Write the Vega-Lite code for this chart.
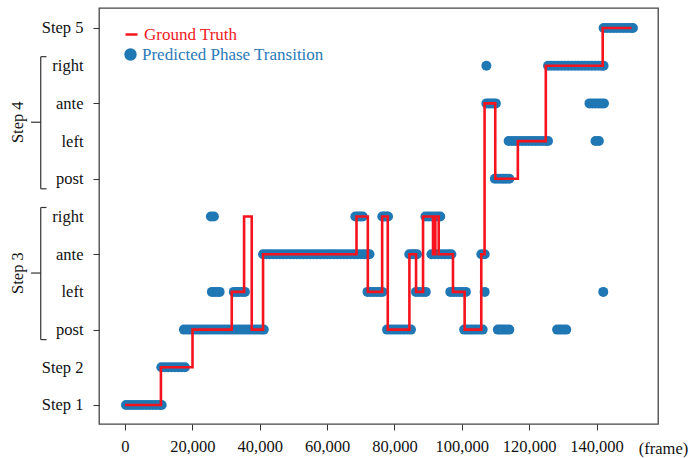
{
  "$schema": "https://vega.github.io/schema/vega-lite/v6.json",
  "width": 559,
  "height": 416,
  "autosize": {"type": "none"},
  "padding": {"left": 99, "top": 8, "right": 31, "bottom": 34},
  "background": "white",
  "config": {
    "view": {"stroke": "#444", "strokeWidth": 1.3},
    "font": "Liberation Serif",
    "text": {"font": "Liberation Serif"}
  },
  "datasets": {
    "pred": [
      {"f":300,"s":0},{"f":1300,"s":0},{"f":2300,"s":0},{"f":3300,"s":0},{"f":4300,"s":0},{"f":5300,"s":0},{"f":6300,"s":0},{"f":7300,"s":0},{"f":8300,"s":0},{"f":9300,"s":0},{"f":10300,"s":0},{"f":10900,"s":0},
      {"f":10800,"s":1},{"f":11800,"s":1},{"f":12800,"s":1},{"f":13800,"s":1},{"f":14800,"s":1},{"f":15800,"s":1},{"f":16800,"s":1},{"f":17800,"s":1},
      {"f":17500,"s":2},{"f":18500,"s":2},{"f":19500,"s":2},{"f":20500,"s":2},{"f":21500,"s":2},{"f":22500,"s":2},{"f":23500,"s":2},{"f":24500,"s":2},{"f":25500,"s":2},{"f":26500,"s":2},{"f":27500,"s":2},{"f":28500,"s":2},{"f":29500,"s":2},{"f":30500,"s":2},{"f":31500,"s":2},{"f":32500,"s":2},{"f":33500,"s":2},{"f":34500,"s":2},{"f":35500,"s":2},{"f":36500,"s":2},{"f":37500,"s":2},{"f":38500,"s":2},{"f":39500,"s":2},{"f":40500,"s":2},{"f":41200,"s":2},
      {"f":25800,"s":3},{"f":26600,"s":3},{"f":27400,"s":3},{"f":28100,"s":3},
      {"f":32300,"s":3},{"f":33100,"s":3},{"f":33900,"s":3},{"f":34800,"s":3},{"f":35600,"s":3},
      {"f":25500,"s":5},{"f":26400,"s":5},
      {"f":41000,"s":4},{"f":42000,"s":4},{"f":43000,"s":4},{"f":44000,"s":4},{"f":45000,"s":4},{"f":46000,"s":4},{"f":47000,"s":4},{"f":48000,"s":4},{"f":49000,"s":4},{"f":50000,"s":4},{"f":51000,"s":4},{"f":52000,"s":4},{"f":53000,"s":4},{"f":54000,"s":4},{"f":55000,"s":4},{"f":56000,"s":4},{"f":57000,"s":4},{"f":58000,"s":4},{"f":59000,"s":4},{"f":60000,"s":4},{"f":61000,"s":4},{"f":62000,"s":4},{"f":63000,"s":4},{"f":64000,"s":4},{"f":65000,"s":4},{"f":66000,"s":4},{"f":67000,"s":4},{"f":68000,"s":4},{"f":69000,"s":4},{"f":70000,"s":4},{"f":71000,"s":4},{"f":72000,"s":4},{"f":72600,"s":4},
      {"f":68400,"s":5},{"f":69100,"s":5},{"f":69900,"s":5},{"f":70600,"s":5},
      {"f":76400,"s":5},{"f":77000,"s":5},{"f":77600,"s":5},{"f":78100,"s":5},
      {"f":89200,"s":5},{"f":90100,"s":5},{"f":91000,"s":5},{"f":91900,"s":5},{"f":92800,"s":5},{"f":93600,"s":5},
      {"f":72000,"s":3},{"f":72900,"s":3},{"f":73800,"s":3},{"f":74700,"s":3},{"f":75600,"s":3},{"f":76400,"s":3},
      {"f":86400,"s":3},{"f":87400,"s":3},{"f":88400,"s":3},{"f":89300,"s":3},
      {"f":96600,"s":3},{"f":97500,"s":3},{"f":98400,"s":3},{"f":99300,"s":3},{"f":100200,"s":3},{"f":101200,"s":3},
      {"f":106800,"s":3},
      {"f":142000,"s":3},
      {"f":77800,"s":2},{"f":78800,"s":2},{"f":79800,"s":2},{"f":80800,"s":2},{"f":81800,"s":2},{"f":82800,"s":2},{"f":83900,"s":2},{"f":84900,"s":2},
      {"f":100700,"s":2},{"f":101600,"s":2},{"f":102500,"s":2},{"f":103400,"s":2},{"f":104300,"s":2},{"f":105300,"s":2},{"f":106200,"s":2},
      {"f":110700,"s":2},{"f":111500,"s":2},{"f":112300,"s":2},{"f":113200,"s":2},{"f":114100,"s":2},
      {"f":128300,"s":2},{"f":129200,"s":2},{"f":130100,"s":2},{"f":131000,"s":2},
      {"f":84400,"s":4},{"f":85200,"s":4},{"f":86000,"s":4},{"f":86700,"s":4},
      {"f":91000,"s":4},{"f":92000,"s":4},{"f":93000,"s":4},{"f":94000,"s":4},{"f":95000,"s":4},{"f":96000,"s":4},{"f":96900,"s":4},
      {"f":105800,"s":4},{"f":106800,"s":4},
      {"f":107300,"s":9},
      {"f":125600,"s":9},{"f":126600,"s":9},{"f":127600,"s":9},{"f":128600,"s":9},{"f":129600,"s":9},{"f":130600,"s":9},{"f":131600,"s":9},{"f":132600,"s":9},{"f":133600,"s":9},{"f":134600,"s":9},{"f":135600,"s":9},{"f":136600,"s":9},{"f":137600,"s":9},{"f":138600,"s":9},{"f":139600,"s":9},{"f":140600,"s":9},{"f":141600,"s":9},{"f":142100,"s":9},
      {"f":107300,"s":8},{"f":108000,"s":8},{"f":108700,"s":8},{"f":109400,"s":8},{"f":110100,"s":8},
      {"f":137900,"s":8},{"f":138800,"s":8},{"f":139700,"s":8},{"f":140600,"s":8},{"f":141400,"s":8},{"f":142200,"s":8},
      {"f":113900,"s":7},{"f":114900,"s":7},{"f":115900,"s":7},{"f":116900,"s":7},{"f":117900,"s":7},{"f":118900,"s":7},{"f":119900,"s":7},{"f":120900,"s":7},{"f":121900,"s":7},{"f":122900,"s":7},{"f":123900,"s":7},{"f":124900,"s":7},{"f":125600,"s":7},
      {"f":139700,"s":7},{"f":140700,"s":7},
      {"f":109800,"s":6},{"f":110700,"s":6},{"f":111600,"s":6},{"f":112400,"s":6},{"f":113200,"s":6},{"f":114100,"s":6},
      {"f":142100,"s":10},{"f":143100,"s":10},{"f":144100,"s":10},{"f":145100,"s":10},{"f":146100,"s":10},{"f":147100,"s":10},{"f":148100,"s":10},{"f":149100,"s":10},{"f":150100,"s":10},{"f":150800,"s":10}
    ],
    "gt": [
      {"f":0,"s":0},{"f":10670,"s":1},{"f":20050,"s":2},{"f":31700,"s":3},{"f":35360,"s":5},{"f":37630,"s":2},{"f":40990,"s":4},{"f":68740,"s":5},{"f":72100,"s":3},{"f":76350,"s":5},{"f":78020,"s":2},{"f":84440,"s":4},{"f":86420,"s":3},{"f":88490,"s":5},{"f":91460,"s":4},{"f":92150,"s":5},{"f":93140,"s":4},{"f":97380,"s":3},{"f":100840,"s":2},{"f":105780,"s":4},{"f":106760,"s":8},{"f":109930,"s":6},{"f":116640,"s":7},{"f":124940,"s":9},{"f":141830,"s":10},{"f":150420,"s":10}
    ],
    "groups": [
      {"grp":"Step 3","lo":2,"hi":5,"mid":3.5},
      {"grp":"Step 4","lo":6,"hi":9,"mid":7.5}
    ]
  },
  "layer": [
    {
      "data": {"name": "pred"},
      "mark": {"type": "circle", "size": 100, "opacity": 1},
      "encoding": {
        "x": {
          "field": "f", "type": "quantitative",
          "scale": {"domain": [-7715, 158250], "nice": false, "zero": false},
          "axis": {
            "values": [0, 20000, 40000, 60000, 80000, 100000, 120000, 140000],
            "labelExpr": "format(datum.value, ',')",
            "grid": false, "domain": false,
            "tickSize": 6, "tickColor": "#333", "tickWidth": 1,
            "labelPadding": 8, "labelFontSize": 16.5, "labelFont": "Liberation Serif", "labelColor": "#111",
            "labelFlush": false, "labelOverlap": false,
            "title": "(frame)", "titleX": 564, "titleY": 24, "titleBaseline": "middle", "titleAlign": "center",
            "titleFontWeight": "normal", "titleFontSize": 16.5, "titleFont": "Liberation Serif", "titleColor": "#111"
          }
        },
        "y": {
          "field": "s", "type": "quantitative",
          "scale": {"domain": [-0.504, 10.53], "nice": false, "zero": false},
          "axis": {
            "values": [0, 1, 2, 3, 4, 5, 6, 7, 8, 9, 10],
            "labelExpr": "['Step 1','Step 2','post','left','ante','right','post','left','ante','right','Step 5'][datum.value]",
            "grid": false, "domain": false,
            "tickSize": 6, "tickColor": "#333", "tickWidth": 1,
            "tickOpacity": {"condition": {"test": "datum.value % 2 === 0", "value": 1}, "value": 0},
            "labelPadding": 10, "labelFontSize": 16.5, "labelFont": "Liberation Serif", "labelColor": "#111",
            "labelOverlap": false, "labelFlush": false,
            "title": null
          }
        },
        "fill": {
          "datum": "Predicted Phase Transition",
          "scale": {"domain": ["Predicted Phase Transition"], "range": ["#1f77b4"]},
          "legend": {
            "orient": "none", "legendX": 23, "legendY": 38, "title": null, "padding": 0,
            "labelFont": "Liberation Serif", "labelFontSize": 17, "labelOffset": 3,
            "labelColor": "#2a7ab8", "labelLimit": 400,
            "symbolType": "circle", "symbolSize": 154, "symbolOpacity": 1, "symbolStrokeWidth": 0
          }
        }
      }
    },
    {
      "data": {"name": "gt"},
      "mark": {"type": "line", "interpolate": "step-after", "strokeWidth": 2.6},
      "encoding": {
        "x": {"field": "f", "type": "quantitative"},
        "y": {"field": "s", "type": "quantitative"},
        "stroke": {
          "datum": "Ground Truth",
          "scale": {"domain": ["Ground Truth"], "range": ["#f5141e"]},
          "legend": {
            "orient": "none", "legendX": 24, "legendY": 18, "title": null, "padding": 0,
            "labelFont": "Liberation Serif", "labelFontSize": 17, "labelOffset": 4,
            "labelColor": "#f01a22", "labelLimit": 400,
            "symbolType": "stroke", "symbolSize": 144, "symbolStrokeWidth": 2.5
          }
        }
      }
    },
    {
      "data": {"name": "groups"},
      "mark": {"type": "rule", "color": "#333", "strokeWidth": 1.2, "yOffset": 10, "y2Offset": -9},
      "encoding": {
        "x": {"datum": -25015, "type": "quantitative"},
        "y": {"field": "lo", "type": "quantitative"},
        "y2": {"field": "hi"}
      }
    },
    {
      "data": {"name": "groups"},
      "mark": {"type": "rule", "color": "#333", "strokeWidth": 1.2, "yOffset": -9},
      "encoding": {
        "x": {"datum": -25015, "type": "quantitative"},
        "x2": {"datum": -23300},
        "y": {"field": "hi", "type": "quantitative"}
      }
    },
    {
      "data": {"name": "groups"},
      "mark": {"type": "rule", "color": "#333", "strokeWidth": 1.2, "yOffset": 10},
      "encoding": {
        "x": {"datum": -25015, "type": "quantitative"},
        "x2": {"datum": -23300},
        "y": {"field": "lo", "type": "quantitative"}
      }
    },
    {
      "data": {"name": "groups"},
      "mark": {"type": "rule", "color": "#333", "strokeWidth": 1.2},
      "encoding": {
        "x": {"datum": -27893, "type": "quantitative"},
        "x2": {"datum": -25015},
        "y": {"field": "mid", "type": "quantitative"}
      }
    },
    {
      "data": {"name": "groups"},
      "mark": {"type": "text", "angle": 270, "align": "center", "baseline": "middle", "fontSize": 16.5, "font": "Liberation Serif", "color": "#111"},
      "encoding": {
        "x": {"datum": -31750, "type": "quantitative"},
        "y": {"field": "mid", "type": "quantitative"},
        "text": {"field": "grp"}
      }
    }
  ]
}
